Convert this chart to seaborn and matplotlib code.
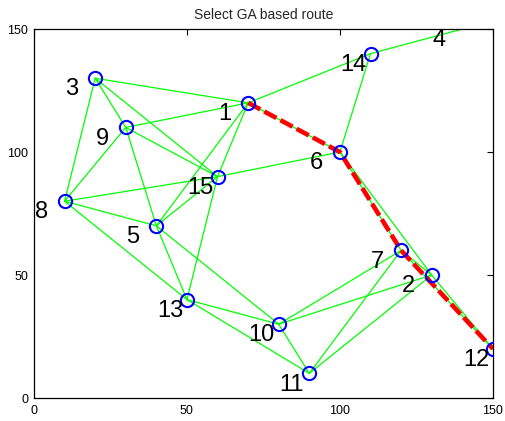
import matplotlib
matplotlib.use("Agg")
import matplotlib.pyplot as plt
import numpy as np
import pandas as pd
import seaborn as sns

# Node coordinates (node id -> x, y)
node_ids = list(range(1, 16))
node_x = [70, 130, 20, 140, 40, 100, 120, 10, 30, 80, 90, 150, 50, 110, 60]
node_y = [120, 50, 130, 150, 70, 100, 60, 80, 110, 30, 10, 20, 40, 140, 90]

# Network links (pairs of node ids)
edge_from = [1, 1, 1, 1, 1, 1, 3, 3, 3, 9, 9, 9, 8, 8, 8, 5, 5, 5, 15, 15,
             13, 13, 10, 10, 10, 11, 11, 7, 7, 6, 6, 2, 6, 14]
edge_to = [3, 9, 15, 5, 6, 14, 9, 15, 8, 15, 8, 5, 15, 5, 13, 15, 13, 10, 13, 6,
           10, 11, 11, 7, 2, 7, 2, 2, 12, 7, 2, 12, 14, 4]

# Selected route
route = [1, 6, 7, 12]

x_ticks = [0, 50, 100, 150]
y_ticks = [0, 50, 100, 150]
title = "Select GA based route"

sns.set_style("white")
plt.rcParams["font.family"] = ["Liberation Sans", "DejaVu Sans"]

pos = {n: (x, y) for n, x, y in zip(node_ids, node_x, node_y)}

edge_rows = []
for k, (a, b) in enumerate(zip(edge_from, edge_to)):
    for n in (a, b):
        edge_rows.append({"edge": k, "x": pos[n][0], "y": pos[n][1]})
edges_df = pd.DataFrame(edge_rows)

route_df = pd.DataFrame({"x": [pos[n][0] for n in route],
                         "y": [pos[n][1] for n in route]})

nodes_df = pd.DataFrame({"id": node_ids, "x": node_x, "y": node_y})

fig = plt.figure(figsize=(5.05, 4.21), dpi=100)
ax = fig.add_axes([0.0673, 0.0546, 0.9087, 0.8764])

sns.lineplot(data=edges_df, x="x", y="y", units="edge", estimator=None,
             sort=False, color=(0, 1, 0), linewidth=0.9, ax=ax, zorder=2)

sns.lineplot(data=route_df, x="x", y="y", estimator=None, sort=False,
             color="red", linewidth=3.3, linestyle=(0, (3, 1)), ax=ax, zorder=3)

# markers for nodes lying inside the plotting window
inside = nodes_df[nodes_df["y"] < 150]
ax.plot(inside["x"], inside["y"], linestyle="none", marker="o",
        markersize=9.5, markerfacecolor="none", markeredgecolor="blue",
        markeredgewidth=1.5, zorder=4)

for n, x, y in zip(node_ids, node_x, node_y):
    ax.text(x - 9.8, y - 7, str(n), fontsize=17, ha="left", va="baseline",
            color="black", zorder=5)

ax.set_xlim(0, 150)
ax.set_ylim(0, 150)
ax.set_xticks(x_ticks)
ax.set_yticks(y_ticks)
ax.set_xlabel("")
ax.set_ylabel("")
ax.tick_params(direction="in", length=4, width=0.8, labelsize=9,
               top=True, right=True, colors="black")
ax.tick_params(axis="x", pad=5)
ax.tick_params(axis="y", pad=4)
for s in ax.spines.values():
    s.set_color("black")
    s.set_linewidth(0.9)
ax.set_title(title, fontsize=10, pad=7.5)

fig.savefig("out.png", dpi=100, facecolor="white")
